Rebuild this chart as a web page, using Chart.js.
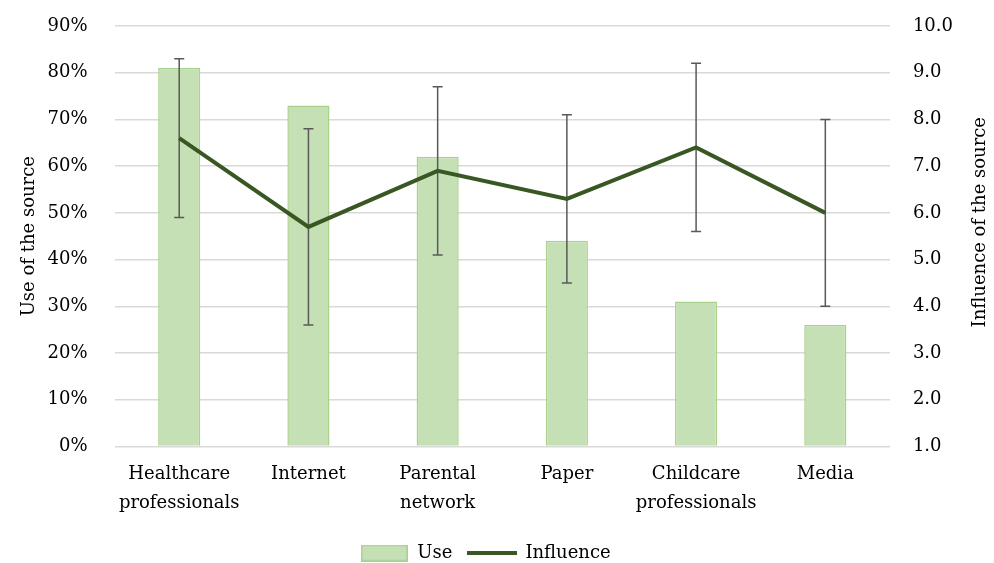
<!DOCTYPE html>
<html>
<head>
<meta charset="utf-8">
<script src="https://cdn.jsdelivr.net/npm/chart.js@4.4.1/dist/chart.umd.min.js"></script>
<style>
html,body{margin:0;padding:0;background:#fff;}
#wrap{width:994px;height:563px;position:relative;}
</style>
</head>
<body>
<div id="wrap"><canvas id="c" width="994" height="563"></canvas></div>
<script>
const categories = [['Healthcare','professionals'], 'Internet', ['Parental','network'], 'Paper', ['Childcare','professionals'], 'Media'];
const useValues = [81, 73, 62, 44, 31, 26];
const influenceValues = [7.6, 5.7, 6.9, 6.3, 7.4, 6.0];
const influenceLow = [5.9, 3.6, 5.1, 4.5, 5.6, 4.0];
const influenceHigh = [9.3, 7.8, 8.7, 8.1, 9.2, 8.0];
const leftTicks = [0,10,20,30,40,50,60,70,80,90];
const rightTicks = [1,2,3,4,5,6,7,8,9,10];
const rightTitle = 'Influence of the source';

const FONT = "'DejaVu Serif', serif";
const BAR_FILL = '#c5e0b4', BAR_BORDER = '#a9d18e', LINE_COLOR = '#385723';

function makeBarMarker() {
  const c = document.createElement('canvas');
  c.width = 47; c.height = 17;
  const g = c.getContext('2d');
  g.fillStyle = BAR_FILL; g.fillRect(0, 0, 47, 17);
  g.strokeStyle = BAR_BORDER; g.lineWidth = 1.5; g.strokeRect(0.75, 0.75, 45.5, 15.5);
  return c;
}
function makeLineMarker() {
  const c = document.createElement('canvas');
  c.width = 50; c.height = 6;
  const g = c.getContext('2d');
  g.strokeStyle = LINE_COLOR; g.lineWidth = 4;
  g.beginPath(); g.moveTo(0, 3); g.lineTo(50, 3); g.stroke();
  return c;
}

const errorBars = {
  id: 'errorBars',
  afterDatasetDraw(chart, args) {
    if (args.index !== 0) return;
    const ctx = chart.ctx;
    const x = chart.scales.x;
    const y = chart.scales.y1;
    ctx.save();
    ctx.strokeStyle = '#595959';
    ctx.lineWidth = 1.5;
    for (let i = 0; i < influenceValues.length; i++) {
      const px = x.getPixelForValue(i);
      const top = y.getPixelForValue(influenceHigh[i]);
      const bot = y.getPixelForValue(influenceLow[i]);
      ctx.beginPath();
      ctx.moveTo(px, top); ctx.lineTo(px, bot);
      ctx.moveTo(px - 5, top); ctx.lineTo(px + 5, top);
      ctx.moveTo(px - 5, bot); ctx.lineTo(px + 5, bot);
      ctx.stroke();
    }
    ctx.restore();
  }
};

const rightTitlePlugin = {
  id: 'rightTitle',
  afterDraw(chart) {
    const ctx = chart.ctx;
    const a = chart.chartArea;
    ctx.save();
    ctx.translate(a.right + 90, (a.top + a.bottom) / 2 - 14);
    ctx.rotate(-Math.PI / 2);
    ctx.font = "18px " + FONT;
    ctx.fillStyle = '#000';
    ctx.textAlign = 'center';
    ctx.textBaseline = 'middle';
    ctx.fillText(rightTitle, 0, 0);
    ctx.restore();
  }
};

new Chart(document.getElementById('c'), {
  data: {
    labels: categories,
    datasets: [
      {
        type: 'bar', label: 'Use', data: useValues, yAxisID: 'y', order: 1,
        backgroundColor: BAR_FILL, borderColor: BAR_BORDER, borderWidth: 1.5,
        categoryPercentage: 1, barPercentage: 0.326,
        pointStyle: makeBarMarker()
      },
      {
        type: 'line', label: 'Influence', data: influenceValues, yAxisID: 'y1', order: 0,
        borderColor: LINE_COLOR, backgroundColor: LINE_COLOR, borderWidth: 4,
        pointRadius: 0, tension: 0, fill: false, pointStyle: makeLineMarker()
      }
    ]
  },
  options: {
    responsive: false,
    animation: false,
    layout: { padding: { left: 15, right: 38, top: 26, bottom: -9 } },
    plugins: {
      tooltip: { enabled: false },
      legend: {
        position: 'bottom',
        labels: {
          usePointStyle: true, pointStyleWidth: 48, boxWidth: 48, boxHeight: 17,
          font: { family: FONT, size: 18 }, color: '#000', padding: 16,
          sort: (a, b) => a.datasetIndex - b.datasetIndex
        }
      }
    },
    scales: {
      x: {
        grid: { display: false },
        border: { display: false },
        ticks: { font: { family: FONT, size: 18, lineHeight: 1.6 }, color: '#000', padding: 6, maxRotation: 0, autoSkip: false },
        afterFit: s => { s.height += 4; }
      },
      y: {
        position: 'left', min: 0, max: 90,
        afterBuildTicks: s => { s.ticks = leftTicks.map(v => ({ value: v })); },
        grid: { color: '#d9d9d9', lineWidth: 1.5, drawTicks: true, tickLength: 24, tickColor: 'rgba(0,0,0,0)' },
        border: { display: false },
        ticks: { font: { family: FONT, size: 18 }, color: '#000', padding: 3, callback: v => v + '%' },
        title: { display: true, text: 'Use of the source', font: { family: FONT, size: 18 }, color: '#000', padding: 4 }
      },
      y1: {
        position: 'right', min: 1, max: 10,
        afterBuildTicks: s => { s.ticks = rightTicks.map(v => ({ value: v })); },
        grid: { display: true, drawOnChartArea: false, drawTicks: true, tickLength: 20, tickColor: 'rgba(0,0,0,0)' },
        border: { display: false },
        ticks: { font: { family: FONT, size: 18 }, color: '#000', padding: 3, callback: v => Number(v).toFixed(1) }
      }
    }
  },
  plugins: [errorBars, rightTitlePlugin]
});
</script>
</body>
</html>
